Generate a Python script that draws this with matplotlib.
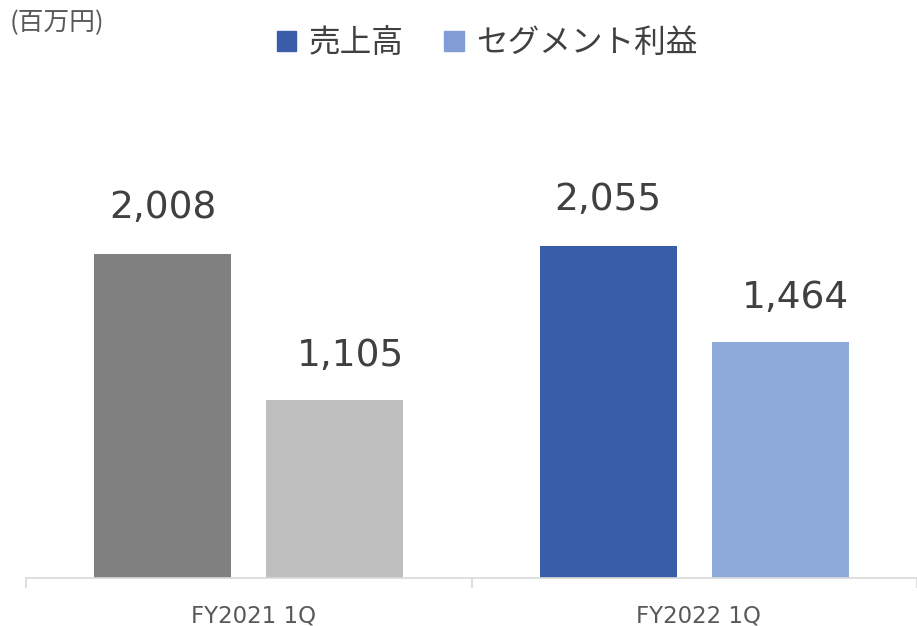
import matplotlib.pyplot as plt
from matplotlib.patches import Patch

# data
categories = ['FY2021 1Q', 'FY2022 1Q']
series_names = ['売上高', 'セグメント利益']
sales = [2008, 2055]
profit = [1105, 1464]
value_labels_sales = ['2,008', '2,055']
value_labels_profit = ['1,105', '1,464']

# colours: FY2021 drawn in grey, FY2022 in blue
sales_colors = ['#808080', '#3a5da9']
profit_colors = ['#bfbfbf', '#8eaadb']
legend_colors = ['#3a5da9', '#829dd6']
text_color = '#595959'
cjk = ['Noto Sans CJK JP', 'DejaVu Sans']

fig = plt.figure(figsize=(9.17, 6.26), dpi=100)
ax = fig.add_axes([26 / 917, 48 / 626, 891 / 917, 488 / 626])

x = list(range(len(categories)))
offset = 0.193
width = 0.308
ax.bar([i - offset for i in x], sales, width=width, color=sales_colors)
ax.bar([i + offset for i in x], profit, width=width, color=profit_colors)

# value labels above bars
for i in x:
    ax.annotate(value_labels_sales[i], (i - offset, sales[i]), xytext=(0, 26),
                textcoords='offset points', ha='center', va='baseline',
                fontsize=27, color='#404040')
    ax.annotate(value_labels_profit[i], (i + offset, profit[i]), xytext=(11, 24),
                textcoords='offset points', ha='center', va='baseline',
                fontsize=27, color='#404040')

ax.set_xlim(-0.5, 1.475)
ax.set_ylim(0, 3025)
ax.set_yticks([])
for s in ['top', 'right', 'left']:
    ax.spines[s].set_visible(False)
ax.spines['bottom'].set_color('#d9d9d9')
ax.spines['bottom'].set_linewidth(1.2)

# group separator ticks + category labels
ax.set_xticks([-0.5, 0.5, 1.5])
ax.set_xticklabels([])
ax.tick_params(axis='x', which='major', length=7.5, color='#d9d9d9', width=1.2)
ax.set_xticks([0.01, 1.01], minor=True)
ax.set_xticklabels(categories, minor=True)
ax.tick_params(axis='x', which='minor', length=0, pad=19, labelsize=16.5,
               labelcolor=text_color)

# unit label
fig.text(10 / 917, 1 - 23 / 626, '(百万円)', family=cjk, fontsize=18.5,
         color=text_color, ha='left', va='center')

# legend
handles = [Patch(color=c) for c in legend_colors]
leg = fig.legend(handles, series_names, loc='center', ncol=2,
                 bbox_to_anchor=(487 / 917, 1 - 43 / 626), frameon=False,
                 prop={'family': cjk, 'size': 22.8},
                 handlelength=0.62, handleheight=0.62, handletextpad=0.38,
                 columnspacing=1.3, borderpad=0)
for t in leg.get_texts():
    t.set_color('#404040')

plt.savefig('out.png', dpi=100)
